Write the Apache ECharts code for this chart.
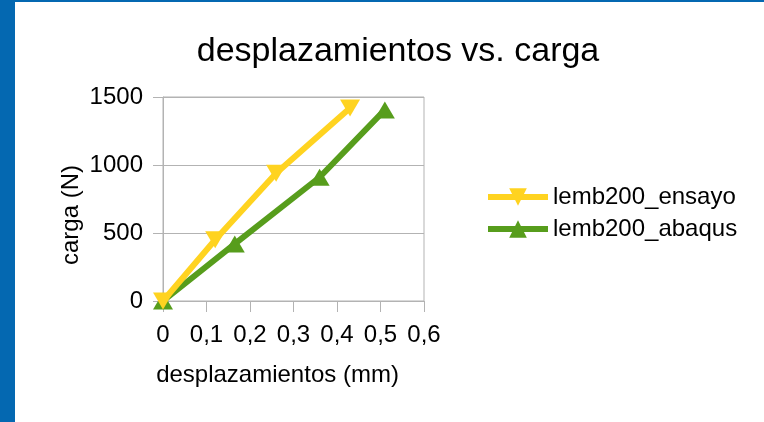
<!DOCTYPE html>
<html>
<head>
<meta charset="utf-8">
<script src="https://cdn.jsdelivr.net/npm/echarts@6/dist/echarts.min.js"></script>
<style>
  html, body { margin: 0; padding: 0; background: #ffffff; }
  #main { width: 764px; height: 422px; }
</style>
</head>
<body>
<div id="main"></div>
<script>
const titleText = 'desplazamientos vs. carga';
const xAxisName = 'desplazamientos (mm)';
const yAxisName = 'carga (N)';
const xTickLabels = ['0', '0,1', '0,2', '0,3', '0,4', '0,5', '0,6'];
const yTickLabels = ['0', '500', '1000', '1500'];

const ensayoName = 'lemb200_ensayo';
const ensayoX = [0, 0.12, 0.26, 0.43];
const ensayoY = [0, 450, 940, 1420];

const abaqusName = 'lemb200_abaqus';
const abaqusX = [0, 0.165, 0.36, 0.51];
const abaqusY = [0, 420, 910, 1405];

const FONT = '"Liberation Sans", Arial, sans-serif';
const chart = echarts.init(document.getElementById('main'), null, { renderer: 'canvas' });

chart.setOption({
  backgroundColor: '#ffffff',
  animation: false,
  textStyle: { fontFamily: FONT, color: '#000000' },
  graphic: [
    { type: 'rect', left: 0, top: 0, shape: { width: 15, height: 422 }, style: { fill: '#0468b1' }, silent: true },
    { type: 'rect', left: 0, top: 0, shape: { width: 764, height: 2 }, style: { fill: '#0468b1' }, silent: true }
  ],
  title: {
    text: titleText,
    left: 393,
    textAlign: 'center',
    top: 30,
    textStyle: { fontFamily: FONT, fontSize: 34, fontWeight: 'normal', color: '#000000' }
  },
  legend: {
    orient: 'vertical',
    left: 480,
    top: 180,
    itemWidth: 60,
    itemHeight: 22,
    itemGap: 8,
    lineStyle: { width: 6 },
    textStyle: { fontFamily: FONT, fontSize: 24, color: '#000000' },
    data: [ensayoName, abaqusName]
  },
  grid: {
    left: 163,
    top: 97,
    width: 261,
    height: 204,
    show: true,
    borderColor: '#b3b3b3',
    borderWidth: 1,
    backgroundColor: 'transparent'
  },
  xAxis: {
    type: 'value',
    min: 0,
    max: 0.6,
    interval: 0.1,
    name: xAxisName,
    nameLocation: 'middle',
    nameGap: 62,
    nameTextStyle: { fontFamily: FONT, fontSize: 24, color: '#000000', padding: [0, 32, 0, 0] },
    axisLine: { show: true, lineStyle: { color: '#b3b3b3', width: 1 } },
    axisTick: { show: true, inside: false, length: 11, lineStyle: { color: '#b3b3b3', width: 1 } },
    splitLine: { show: false },
    axisLabel: {
      margin: 22,
      fontFamily: FONT,
      fontSize: 24,
      color: '#000000',
      formatter: function (v, i) { return xTickLabels[i]; }
    }
  },
  yAxis: {
    type: 'value',
    min: 0,
    max: 1500,
    interval: 500,
    name: yAxisName,
    nameLocation: 'middle',
    nameGap: 80,
    nameRotate: 90,
    nameTextStyle: { fontFamily: FONT, fontSize: 24, color: '#000000', padding: [0, 32, 0, 0] },
    axisLine: { show: true, lineStyle: { color: '#b3b3b3', width: 1 } },
    axisTick: { show: true, inside: false, length: 10, lineStyle: { color: '#b3b3b3', width: 1 } },
    splitLine: { show: true, lineStyle: { color: '#b3b3b3', width: 1 } },
    axisLabel: {
      margin: 20,
      fontFamily: FONT,
      fontSize: 24,
      color: '#000000',
      formatter: function (v, i) { return yTickLabels[i]; }
    }
  },
  series: [
    {
      name: ensayoName,
      type: 'line',
      z: 3,
      data: ensayoX.map((x, i) => [x, ensayoY[i]]),
      symbol: 'triangle',
      symbolRotate: 180,
      symbolSize: [20, 17],
      showAllSymbol: true,
      itemStyle: { color: '#ffd320' },
      lineStyle: { color: '#ffd320', width: 6 }
    },
    {
      name: abaqusName,
      type: 'line',
      z: 2,
      data: abaqusX.map((x, i) => [x, abaqusY[i]]),
      symbol: 'triangle',
      symbolSize: [20, 17],
      showAllSymbol: true,
      itemStyle: { color: '#579d1c' },
      lineStyle: { color: '#579d1c', width: 6 }
    }
  ]
});
</script>
</body>
</html>
